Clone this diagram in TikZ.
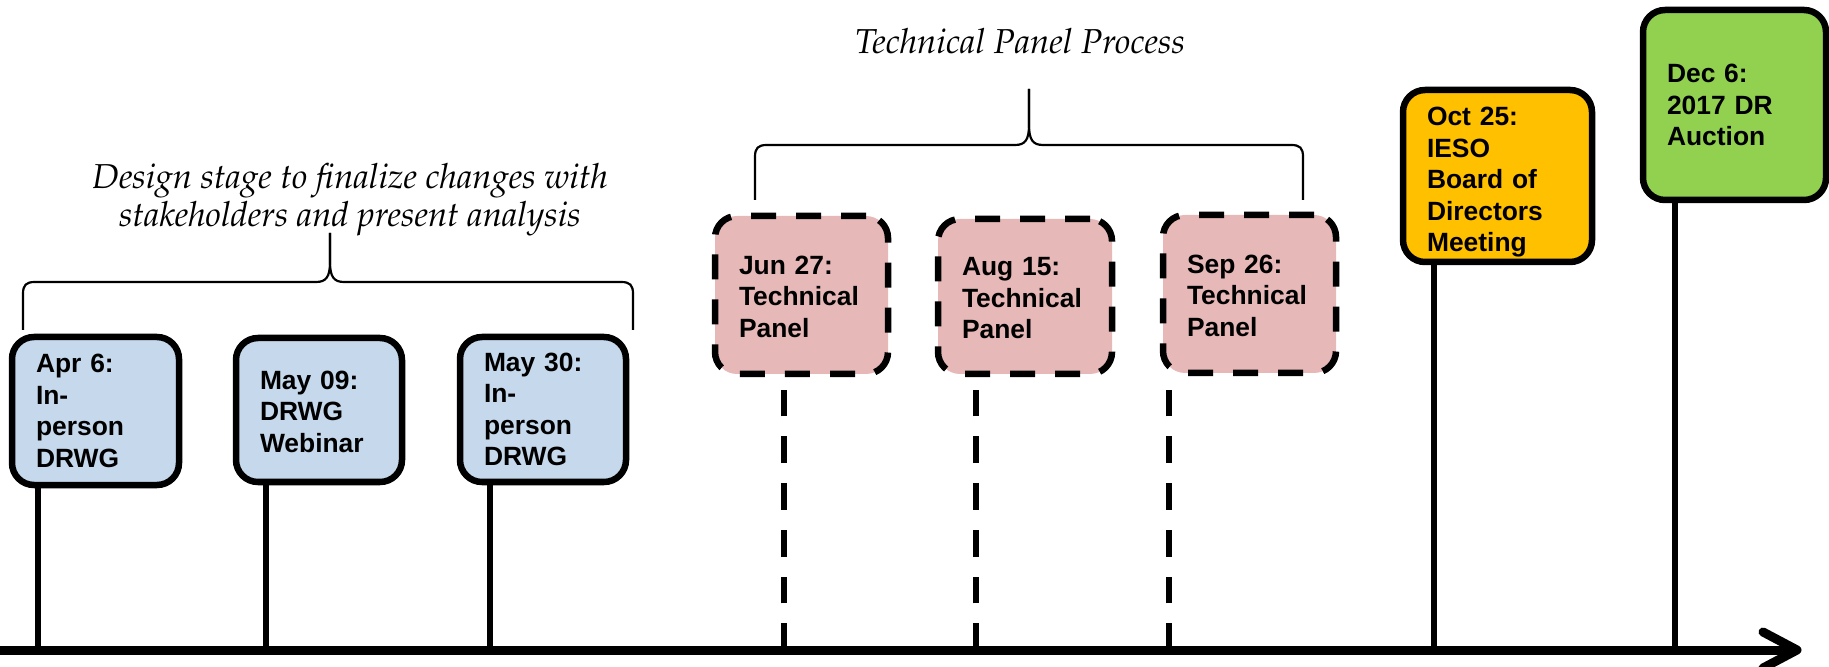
\documentclass[tikz,border=0pt]{standalone}
\usepackage[T1]{fontenc}
\usepackage{fontspec}
\newfontfamily\boxfont{Liberation Sans}
\IfFileExists{t1ppl.fd}{%
  \newcommand\palit{\fontencoding{T1}\fontfamily{ppl}\fontseries{m}\fontshape{it}\selectfont}}{%
  \IfFileExists{t1qpl.fd}{%
    \newcommand\palit{\fontencoding{T1}\fontfamily{qpl}\fontseries{m}\fontshape{it}\selectfont}}{%
    \newcommand\palit{\itshape}}}
\definecolor{cblue}{RGB}{197,216,236}
\definecolor{cpink}{RGB}{230,184,183}
\definecolor{corange}{RGB}{255,192,0}
\definecolor{cgreen}{RGB}{146,208,80}
\begin{document}
\begin{tikzpicture}[x=0.5pt,y=-0.5pt,
  evt/.style={draw=black, line width=3.25pt, rounded corners=11pt, align=left,
    inner xsep=12pt, inner ysep=0pt,
    font=\boxfont\bfseries\fontsize{13.2pt}{15.75pt}\selectfont},
  dashbox/.style={evt, dash pattern=on 12.5pt off 10pt},
  stem/.style={line width=3pt},
  dstem/.style={line width=3pt, dash pattern=on 13.35pt off 10pt},
  brace/.style={line width=1.1pt, line join=round},
  note/.style={align=center, inner sep=0pt,
    font=\palit\fontsize{17.3pt}{19pt}\selectfont}]
\useasboundingbox (0,0) rectangle (1829,667);

% boxes
\node[evt, fill=cblue, text width=59.5pt, minimum height=74pt] (apr) at (95.5,411) {Apr 6:\\In-\\person\\DRWG};
\node[evt, fill=cblue, text width=59pt, minimum height=72pt] (may9) at (319,410) {\rule{0pt}{11pt}May 09:\\DRWG\\Webinar};
\node[evt, fill=cblue, text width=59pt, minimum height=72.5pt] (may30) at (543,409.5) {May 30:\\In-\\person\\DRWG};
\node[dashbox, fill=cpink, text width=62.5pt, minimum height=79pt] (jun) at (801.5,295) {\rule{0pt}{11pt}Jun 27:\\Technical\\Panel};
\node[dashbox, fill=cpink, text width=63pt, minimum height=77.5pt] (aug) at (1025,296.5) {\rule{0pt}{11pt}Aug 15:\\Technical\\Panel};
\node[dashbox, fill=cpink, text width=62.5pt, minimum height=79pt] (sep) at (1249.5,294) {\rule{0pt}{11pt}Sep 26:\\Technical\\Panel};
\node[evt, fill=corange, text width=70.5pt, minimum height=86pt] (oct) at (1497.5,176) {\rule{0pt}{15.5pt}Oct 25:\\IESO\\Board of\\Directors\\Meeting};
\node[evt, fill=cgreen, text width=67.5pt, minimum height=95pt] (dec) at (1734.5,105) {Dec 6:\\2017 DR\\Auction};

% axis points
\coordinate (t1) at (38,650);
\coordinate (t2) at (266,650);
\coordinate (t3) at (490,650);
\coordinate (t4) at (784,650);
\coordinate (t5) at (976,650);
\coordinate (t6) at (1169,650);
\coordinate (t7) at (1434,650);
\coordinate (t8) at (1675,650);

% stems
\draw[stem] (t1) -- (t1 |- apr.south);
\draw[stem] (t2) -- (t2 |- may9.south);
\draw[stem] (t3) -- (t3 |- may30.south);
\draw[dstem] (t4) -- (t4 |- jun.south);
\draw[dstem] (t5) -- (t5 |- aug.south);
\draw[dstem] (t6) -- (t6 |- sep.south);
\draw[stem] (t7) -- (t7 |- oct.south);
\draw[stem] (t8) -- (t8 |- dec.south);

% axis with open arrow head
\coordinate (a0) at (0,650);
\coordinate (tip) at (1797,650);
\draw[line width=4.5pt] (a0) -- (1793,650);
\draw[line width=4.5pt, line cap=round, line join=round] (1763,632) -- (tip) -- (1763,668);

% left brace
\draw[brace] (23,330) -- (23,294) .. controls (23,285) and (26,282) .. (35,282)
  -- (316,282) .. controls (326,282) and (330,277) .. (330,262) -- (330,233);
\draw[brace] (330,233) -- (330,262) .. controls (330,277) and (334,282) .. (344,282)
  -- (621,282) .. controls (630,282) and (633,285) .. (633,294) -- (633,330);
\node[note] (design) at (350,200) {Design stage to finalize changes with\\stakeholders and present analysis};

% top brace
\draw[brace] (755,200) -- (755,157) .. controls (755,148) and (758,145) .. (767,145)
  -- (1015,145) .. controls (1025,145) and (1029,140) .. (1029,125) -- (1029,89);
\draw[brace] (1029,89) -- (1029,125) .. controls (1029,140) and (1033,145) .. (1043,145)
  -- (1291,145) .. controls (1300,145) and (1303,148) .. (1303,157) -- (1303,200);
\node[note] (tpp) at (1020,41) {Technical Panel Process};
\end{tikzpicture}
\end{document}
